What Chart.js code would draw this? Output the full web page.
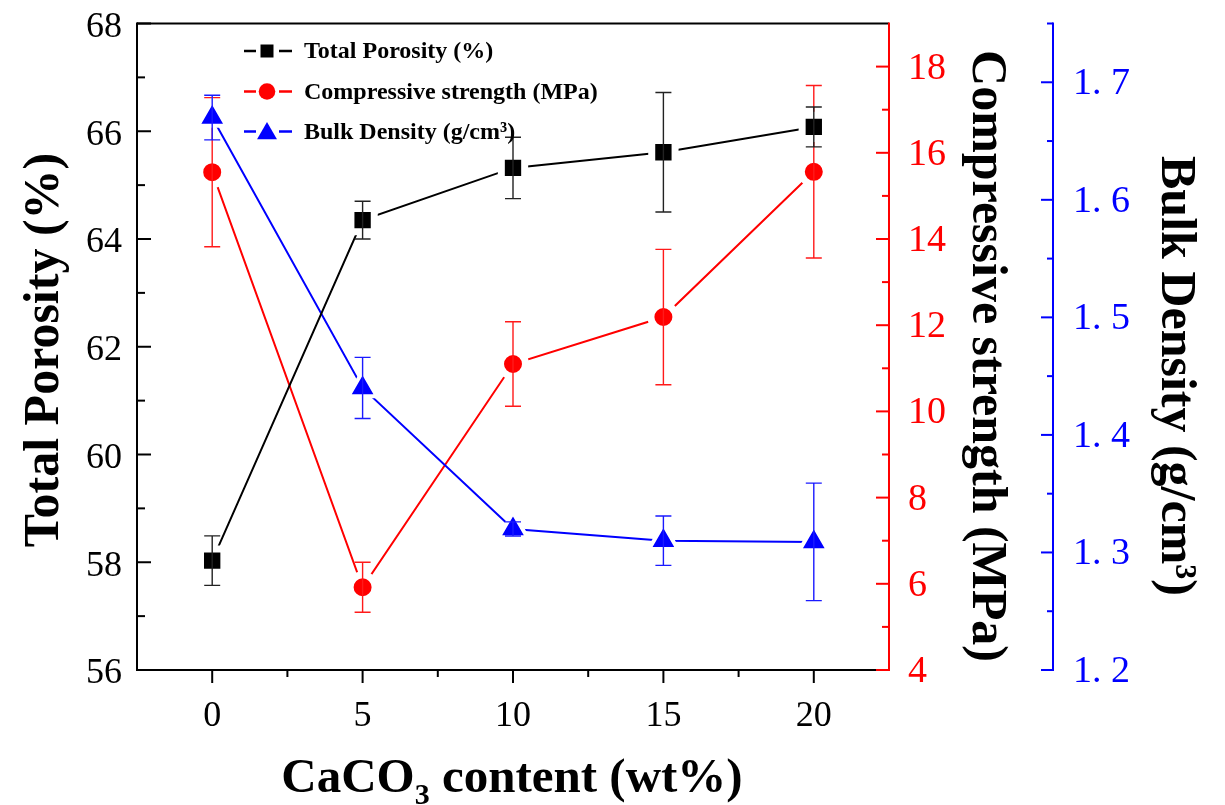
<!DOCTYPE html>
<html><head><meta charset="utf-8">
<script src="https://cdn.jsdelivr.net/npm/chart.js@4.4.1/dist/chart.umd.min.js"></script>
<style>html,body{margin:0;padding:0;background:#fff;} canvas{display:block;}</style>
</head><body>
<canvas id="c" width="1225" height="805"></canvas>
<script>
// ---- data ----
const contents = [0, 5, 10, 15, 20];
const porosity = [58.03, 64.35, 65.32, 65.61, 66.08];
const porosityErr = [0.46, 0.35, 0.57, 1.11, 0.37];
const strength = [15.55, 5.92, 11.10, 12.19, 15.56];
const strengthErr = [1.73, 0.58, 0.98, 1.57, 2.00];
const density = [1.670, 1.440, 1.320, 1.310, 1.309];
const densityErr = [0.019, 0.026, 0.006, 0.021, 0.050];

const xTicks = [0, 5, 10, 15, 20];
const xMinor = [2.5, 7.5, 12.5, 17.5];
const porosityTicks = [56, 58, 60, 62, 64, 66, 68];
const porosityMinor = [57, 59, 61, 63, 65, 67];
const strengthTicks = [4, 6, 8, 10, 12, 14, 16, 18];
const strengthMinor = [5, 7, 9, 11, 13, 15, 17];
const densityTicks = [1.2, 1.3, 1.4, 1.5, 1.6, 1.7];
const densityTickLabels = ['1. 2', '1. 3', '1. 4', '1. 5', '1. 6', '1. 7'];
const densityMinor = [1.25, 1.35, 1.45, 1.55, 1.65, 1.75];

const seriesLabels = ['Total Porosity (%)', 'Compressive strength (MPa)', 'Bulk Density (g/cm³)'];
const titleLeft = 'Total Porosity (%)';
const titleRed = 'Compressive strength (MPa)';
const titleBlue = 'Bulk Density (g/cm³)';
const titleXParts = ['CaCO', '3', ' content (wt%)'];

// ---- helpers ----
const SERIF = '"Liberation Serif", "Times New Roman", serif';
const RED = '#ff0000', BLUE = '#0000ff', BLACK = '#000000';
const toPts = (ys) => contents.map((x, i) => ({x: x, y: ys[i]}));
const setTicks = (vals) => (s) => { s.ticks = vals.map(v => ({value: v})); };
const fixSize = (dim, size) => (s) => {
  s[dim] = size; s.paddingTop = 0; s.paddingBottom = 0; s.paddingLeft = 0; s.paddingRight = 0;
};

const axesPlugin = {
  id: 'axesPlugin',
  beforeDatasetsDraw(chart) {
    const {ctx, chartArea: a, scales} = chart;
    ctx.save();
    ctx.lineWidth = 2;
    ctx.lineCap = 'butt';
    const line = (x1, y1, x2, y2, c) => { ctx.strokeStyle = c; ctx.beginPath(); ctx.moveTo(x1, y1); ctx.lineTo(x2, y2); ctx.stroke(); };
    // frame
    line(a.left, a.top, a.right, a.top, BLACK);
    line(a.left, a.bottom, a.right, a.bottom, BLACK);
    line(a.left, a.top - 1, a.left, a.bottom + 1, BLACK);
    line(a.right, a.top - 1, a.right, a.bottom + 1, RED);
    const bx = scales.yB.left;
    line(bx, a.top - 1, bx, a.bottom + 1, BLUE);
    // x ticks (outward)
    xTicks.forEach(v => { const x = scales.x.getPixelForValue(v); line(x, a.bottom, x, a.bottom + 13, BLACK); });
    xMinor.forEach(v => { const x = scales.x.getPixelForValue(v); line(x, a.bottom, x, a.bottom + 7, BLACK); });
    // left ticks (inward)
    porosityTicks.forEach(v => { const y = scales.y.getPixelForValue(v); line(a.left, y, a.left + 14, y, BLACK); });
    porosityMinor.forEach(v => { const y = scales.y.getPixelForValue(v); line(a.left, y, a.left + 8, y, BLACK); });
    // red ticks (pointing left)
    strengthTicks.forEach(v => { const y = scales.yR.getPixelForValue(v); line(a.right, y, a.right - 13, y, RED); });
    strengthMinor.forEach(v => { const y = scales.yR.getPixelForValue(v); line(a.right, y, a.right - 7, y, RED); });
    // blue ticks (pointing left)
    densityTicks.forEach(v => { const y = scales.yB.getPixelForValue(v); line(bx, y, bx - 12, y, BLUE); });
    densityMinor.forEach(v => { const y = scales.yB.getPixelForValue(v); line(bx, y, bx - 6, y, BLUE); });
    ctx.restore();
  }
};

const errorPlugin = {
  id: 'errorPlugin',
  afterDatasetDraw(chart, args) {
    const ds = chart.data.datasets[args.index];
    if (!ds.errors) return;
    const xs = chart.scales.x, ys = chart.scales[ds.yAxisID];
    const ctx = chart.ctx;
    ctx.save();
    ctx.strokeStyle = ds.errorColor;
    ctx.lineWidth = 1.4;
    ds.data.forEach((p, i) => {
      const x = xs.getPixelForValue(p.x);
      const y1 = ys.getPixelForValue(p.y + ds.errors[i]);
      const y2 = ys.getPixelForValue(p.y - ds.errors[i]);
      ctx.beginPath();
      ctx.moveTo(x, y1); ctx.lineTo(x, y2);
      ctx.moveTo(x - 8, y1); ctx.lineTo(x + 8, y1);
      ctx.moveTo(x - 8, y2); ctx.lineTo(x + 8, y2);
      ctx.stroke();
    });
    ctx.restore();
  }
};

function drawMarker(ctx, style, x, y, color) {
  ctx.fillStyle = color;
  ctx.beginPath();
  if (style === 'rect') {
    ctx.rect(x - 6.5, y - 6.5, 13, 13);
  } else if (style === 'circle') {
    ctx.arc(x, y, 8.3, 0, Math.PI * 2);
  } else {
    const r = 11.5;
    ctx.moveTo(x, y - r);
    ctx.lineTo(x + 0.866 * r, y + 0.5 * r);
    ctx.lineTo(x - 0.866 * r, y + 0.5 * r);
    ctx.closePath();
  }
  ctx.fill();
}

const legendPlugin = {
  id: 'legendPlugin',
  afterDraw(chart) {
    const ctx = chart.ctx;
    const rows = [51, 91.5, 131.5];
    const styles = ['rect', 'circle', 'triangle'];
    const colors = [BLACK, RED, BLUE];
    ctx.save();
    rows.forEach((y, i) => {
      ctx.strokeStyle = colors[i];
      ctx.lineWidth = 2.5;
      ctx.beginPath();
      ctx.moveTo(244, y); ctx.lineTo(256, y);
      ctx.moveTo(279, y); ctx.lineTo(292, y);
      ctx.stroke();
      drawMarker(ctx, styles[i], 267, i === 2 ? y + 2 : y, colors[i]);
      ctx.fillStyle = BLACK;
      ctx.font = 'bold 24px ' + SERIF;
      ctx.textAlign = 'left';
      ctx.textBaseline = 'middle';
      ctx.fillText(seriesLabels[i], 304, y + 1);
    });
    ctx.restore();
  }
};

const titlePlugin = {
  id: 'titlePlugin',
  afterDraw(chart) {
    const ctx = chart.ctx;
    ctx.save();
    ctx.fillStyle = BLACK;
    ctx.textAlign = 'center';
    ctx.textBaseline = 'middle';
    ctx.font = 'bold 50px ' + SERIF;
    const rot = (text, x, y, ang) => { ctx.save(); ctx.translate(x, y); ctx.rotate(ang); ctx.fillText(text, 0, 0); ctx.restore(); };
    rot(titleLeft, 45, 350, -Math.PI / 2);
    rot(titleRed, 986, 356, Math.PI / 2);
    rot(titleBlue, 1175, 376, Math.PI / 2);
    // x title with subscript
    const big = 'bold 49px ' + SERIF, small = 'bold 30px ' + SERIF;
    ctx.font = big; const w1 = ctx.measureText(titleXParts[0]).width; const w3 = ctx.measureText(titleXParts[2]).width;
    ctx.font = small; const w2 = ctx.measureText(titleXParts[1]).width;
    const total = w1 + w2 + w3;
    let x = 512 - total / 2;
    const yb = 792;
    ctx.textAlign = 'left';
    ctx.textBaseline = 'alphabetic';
    ctx.font = big; ctx.fillText(titleXParts[0], x, yb); x += w1;
    ctx.font = small; ctx.fillText(titleXParts[1], x, yb + 12); x += w2;
    ctx.font = big; ctx.fillText(titleXParts[2], x, yb);
    ctx.restore();
  }
};

new Chart(document.getElementById('c'), {
  type: 'line',
  data: {
    datasets: [
      {
        label: seriesLabels[0], data: toPts(porosity), errors: porosityErr, errorColor: '#222222',
        yAxisID: 'y', borderColor: BLACK, backgroundColor: BLACK, borderWidth: 2,
        pointStyle: 'rect', pointRadius: 16.5, pointBorderColor: '#ffffff', pointBorderWidth: 7,
        pointBackgroundColor: BLACK, order: 1
      },
      {
        label: seriesLabels[1], data: toPts(strength), errors: strengthErr, errorColor: '#ff1a1a',
        yAxisID: 'yR', borderColor: RED, backgroundColor: RED, borderWidth: 2,
        pointStyle: 'circle', pointRadius: 12.5, pointBorderColor: '#ffffff', pointBorderWidth: 7,
        pointBackgroundColor: RED, order: 3
      },
      {
        label: seriesLabels[2], data: toPts(density), errors: densityErr, errorColor: '#1a1aff',
        yAxisID: 'yB', borderColor: BLUE, backgroundColor: BLUE, borderWidth: 2,
        pointStyle: 'triangle', pointRadius: 16.5, pointBorderColor: '#ffffff', pointBorderWidth: 4,
        pointBackgroundColor: BLUE, order: 2
      }
    ]
  },
  options: {
    responsive: false,
    devicePixelRatio: 1,
    animation: false,
    events: [],
    layout: {padding: {top: 19, left: 0, right: 0, bottom: 0}},
    plugins: {legend: {display: false}, tooltip: {enabled: false}, title: {display: false}},
    scales: {
      x: {
        type: 'linear', position: 'bottom', min: -2.5, max: 22.5,
        afterBuildTicks: setTicks(xTicks), afterFit: fixSize('height', 135),
        grid: {display: false, drawTicks: false}, border: {display: false},
        ticks: {autoSkip: false, maxRotation: 0, padding: 25, color: BLACK, font: {family: SERIF, size: 36}}
      },
      y: {
        type: 'linear', position: 'left', min: 56, max: 68,
        afterBuildTicks: setTicks(porosityTicks), afterFit: fixSize('width', 137),
        grid: {display: false, drawTicks: false}, border: {display: false},
        ticks: {autoSkip: false, padding: 15, labelOffset: 4, color: BLACK, font: {family: SERIF, size: 36}}
      },
      yR: {
        type: 'linear', position: 'right', min: 4, max: 19, weight: 0,
        afterBuildTicks: setTicks(strengthTicks), afterFit: fixSize('width', 164),
        grid: {display: false, drawTicks: false}, border: {display: false},
        ticks: {autoSkip: false, padding: 19, labelOffset: 2, color: RED, font: {family: SERIF, size: 38}}
      },
      yB: {
        type: 'linear', position: 'right', min: 1.2, max: 1.75, weight: 1,
        afterBuildTicks: setTicks(densityTicks), afterFit: fixSize('width', 172),
        grid: {display: false, drawTicks: false}, border: {display: false},
        ticks: {autoSkip: false, padding: 20, labelOffset: 2, color: BLUE, font: {family: SERIF, size: 38},
          callback: (v, i) => densityTickLabels[i]}
      }
    }
  },
  plugins: [axesPlugin, errorPlugin, legendPlugin, titlePlugin]
});
</script>
</body></html>
